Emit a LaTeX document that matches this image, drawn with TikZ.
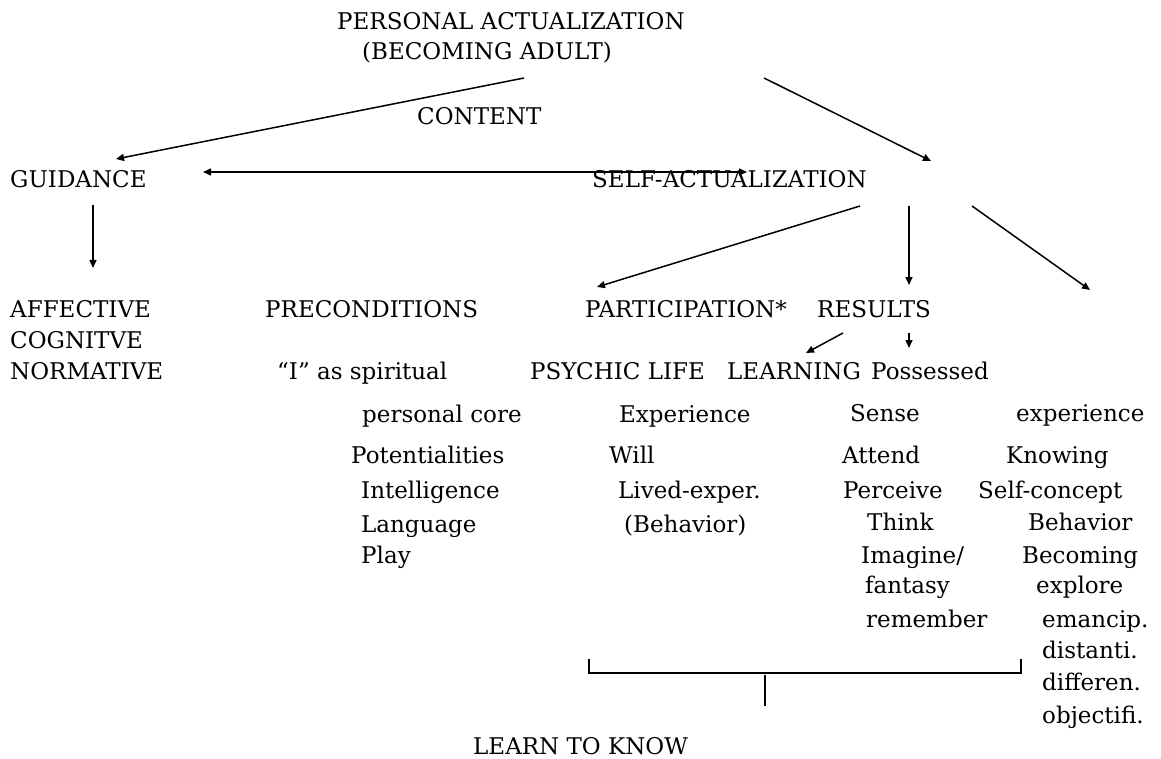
\documentclass[tikz,border=0pt]{standalone}
\usepackage{fontspec}
\setmainfont{DejaVu Serif}
\usetikzlibrary{arrows.meta}
\tikzset{
  lbl/.style={anchor=base west, inner sep=0pt, font=\fontsize{23}{27}\selectfont},
  link/.style={->, line width=1.5pt},
}
\begin{document}
\begin{tikzpicture}[x=1pt,y=-1pt,>={Triangle[length=8pt,width=7pt]}]
  \useasboundingbox (0,0) rectangle (1161,759);
  % top
  \node[lbl] (pact) at (337,30) {PERSONAL ACTUALIZATION};
  \node[lbl] (becad) at (362,60) {(BECOMING ADULT)};
  \node[lbl] (cont) at (417,125) {CONTENT};
  \node[lbl] (guid) at (10,188) {GUIDANCE};
  \node[lbl] (selfact) at (592,188) {SELF-ACTUALIZATION};
  % third row
  \node[lbl] (affect) at (10,317) {AFFECTIVE};
  \node[lbl] (cogn) at (10,348) {COGNITVE};
  \node[lbl] (norm) at (10,379) {NORMATIVE};
  \node[lbl] (precond) at (265,317) {PRECONDITIONS};
  \node[lbl] (partic) at (585,317) {PARTICIPATION*};
  \node[lbl] (results) at (817,317) {RESULTS};
  \node[lbl] (spirit) at (277,379) {“I” as spiritual};
  \node[lbl] (psych) at (530,379) {PSYCHIC LIFE};
  \node[lbl] (learn) at (727,379) {LEARNING};
  \node[lbl] (possess) at (871,379) {Possessed};
  % lists
  \node[lbl] (core) at (362,422) {personal core};
  \node[lbl] (exper) at (619,422) {Experience};
  \node[lbl] (sense) at (850,421) {Sense};
  \node[lbl] (exper2) at (1016,421) {experience};
  \node[lbl] (potent) at (351,463) {Potentialities};
  \node[lbl] (will) at (609,463) {Will};
  \node[lbl] (attend) at (842,463) {Attend};
  \node[lbl] (knowing) at (1006,463) {Knowing};
  \node[lbl] (intel) at (361,498) {Intelligence};
  \node[lbl] (lived) at (618,498) {Lived-exper.};
  \node[lbl] (perc) at (843,498) {Perceive};
  \node[lbl] (selfc) at (978,498) {Self-concept};
  \node[lbl] (lang) at (361,532) {Language};
  \node[lbl] (behav) at (624,532) {(Behavior)};
  \node[lbl] (think) at (867,530) {Think};
  \node[lbl] (behav2) at (1028,530) {Behavior};
  \node[lbl] (play) at (361,563) {Play};
  \node[lbl] (imag) at (861,563) {Imagine/};
  \node[lbl] (becom) at (1022,563) {Becoming};
  \node[lbl] (fant) at (865,593) {fantasy};
  \node[lbl] (explo) at (1036,593) {explore};
  \node[lbl] (remem) at (866,627) {remember};
  \node[lbl] (emanc) at (1042,627) {emancip.};
  \node[lbl] (dist) at (1042,658) {distanti.};
  \node[lbl] (diff) at (1042,690) {differen.};
  \node[lbl] (obj) at (1042,723) {objectifi.};
  \node[lbl] (ltk) at (473,754) {LEARN TO KNOW};
  \coordinate (open) at (1090,290);
  % arrows
  \draw[link] ([shift={(162,18)}]becad.base west) -- ([shift={(106,-29)}]guid.base west);
  \draw[link] ([shift={(402,18)}]becad.base west) -- ([shift={(339,-27)}]selfact.base west);
  \draw[link,<->] ([shift={(193,-16)}]guid.base west) -- ([shift={(155,-16)}]selfact.base west);
  \draw[link] ([shift={(83,17)}]guid.base west) -- ([shift={(83,-49)}]affect.base west);
  \draw[link] ([shift={(268,18)}]selfact.base west) -- ([shift={(12,-30)}]partic.base west);
  \draw[link] ([shift={(317,18)}]selfact.base west) -- ([shift={(92,-32)}]results.base west);
  \draw[link] ([shift={(380,18)}]selfact.base west) -- (open);
  \draw[link] ([shift={(26,16)}]results.base west) -- ([shift={(79,-26)}]learn.base west);
  \draw[link] ([shift={(92,16)}]results.base west) -- ([shift={(38,-31)}]possess.base west);
  % bracket
  \coordinate (brl) at (589,659);
  \coordinate (brr) at (1021,659);
  \coordinate (brm) at (765,675);
  \draw[line width=1.5pt] (brl) -- ++(0,14) -| (brr);
  \draw[line width=1.5pt] (brm) -- ++(0,31);
\end{tikzpicture}
\end{document}
